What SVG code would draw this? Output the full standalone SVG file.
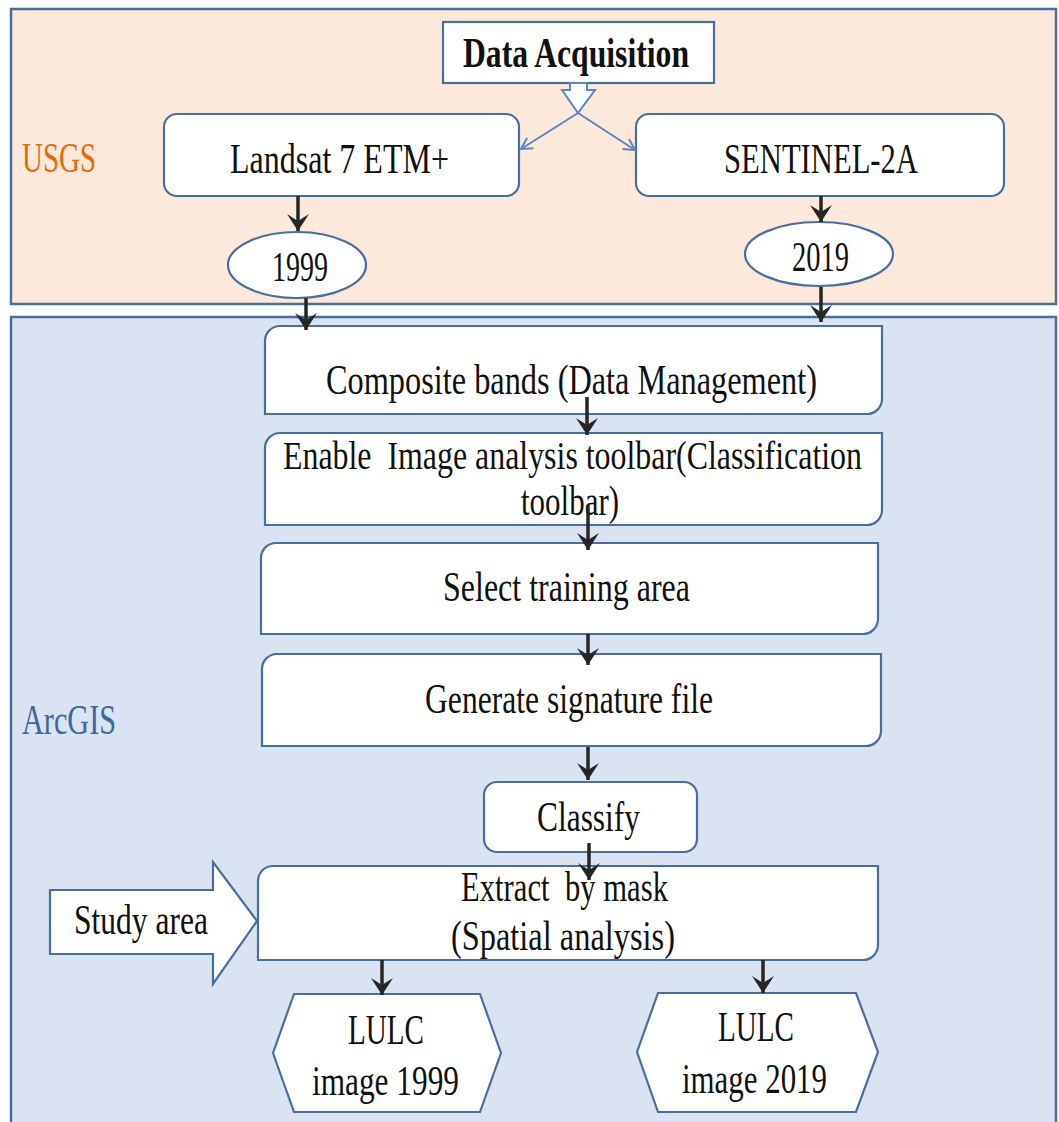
<svg xmlns="http://www.w3.org/2000/svg" width="1059" height="1122" viewBox="0 0 1059 1122">
<style>
.panel{stroke:#4a6e9c;stroke-width:2.5}
.box{fill:#ffffff;stroke:#4a6e9c;stroke-width:2.2}
.t{font-family:"Liberation Serif","Times New Roman",serif;font-size:43px;fill:#111111}
.b{font-weight:bold}
.dark{stroke:#262626;stroke-width:3.5;fill:none}
.blue{stroke:#5b86bf;stroke-width:2;fill:none}
</style>
<defs>
<marker id="ah" viewBox="0 0 20 24" refX="18" refY="12" markerWidth="20" markerHeight="24" markerUnits="userSpaceOnUse" orient="auto">
<path d="M1,1 L18,12 L1,23 L8,12 Z" fill="#262626"/>
</marker>
<marker id="bh" viewBox="0 0 14 14" refX="12" refY="7" markerWidth="14" markerHeight="14" markerUnits="userSpaceOnUse" orient="auto">
<path d="M1,1 L12,7 L1,13" fill="none" stroke="#5b86bf" stroke-width="2"/>
</marker>
</defs>

<g id="panel-usgs">
<rect class="panel" x="11" y="9" width="1045" height="295" fill="#fce9db"/>
<text class="t" x="22" y="172" textLength="74" lengthAdjust="spacingAndGlyphs" style="fill:#e36c09">USGS</text>
</g>
<g id="panel-arcgis">
<rect class="panel" x="11" y="317" width="1045" height="820" fill="#dae3f1"/>
<text class="t" x="22" y="734" textLength="94" lengthAdjust="spacingAndGlyphs" style="fill:#41679c">ArcGIS</text>
</g>

<g id="data-acquisition">
<rect class="box" x="443" y="22" width="271" height="61"/>
<text class="t b" x="463" y="67" textLength="226" lengthAdjust="spacingAndGlyphs">Data Acquisition</text>
</g>

<g id="landsat">
<rect class="box" x="164" y="114" width="355" height="82" rx="13"/>
<text class="t" x="230" y="173" textLength="219" lengthAdjust="spacingAndGlyphs">Landsat 7 ETM+</text>
</g>
<g id="sentinel">
<rect class="box" x="636" y="114" width="368" height="82" rx="13"/>
<text class="t" x="724" y="173" textLength="194" lengthAdjust="spacingAndGlyphs">SENTINEL-2A</text>
</g>
<g id="y1999">
<ellipse class="box" cx="297" cy="265" rx="69" ry="33"/>
<text class="t" x="272" y="281" textLength="56" lengthAdjust="spacingAndGlyphs">1999</text>
</g>
<g id="y2019">
<ellipse class="box" cx="819" cy="254" rx="74" ry="32"/>
<text class="t" x="792" y="271" textLength="57" lengthAdjust="spacingAndGlyphs">2019</text>
</g>

<g id="composite">
<path class="box" d="M280,326 H882 V399 A15,15 0 0 1 867,414 H265 V341 A15,15 0 0 1 280,326 Z"/>
<text class="t" x="326" y="394" textLength="491" lengthAdjust="spacingAndGlyphs">Composite bands (Data Management)</text>
</g>
<g id="enable">
<path class="box" d="M280,433 H882 V510 A15,15 0 0 1 867,525 H265 V448 A15,15 0 0 1 280,433 Z"/>
<text class="t" x="283" y="469" textLength="579" lengthAdjust="spacingAndGlyphs" xml:space="preserve" style="font-size:40px">Enable  Image analysis toolbar(Classification</text>
<text class="t" x="521" y="515" textLength="98" lengthAdjust="spacingAndGlyphs">toolbar)</text>
</g>
<g id="select">
<path class="box" d="M276,543 H878 V619 A15,15 0 0 1 863,634 H261 V558 A15,15 0 0 1 276,543 Z"/>
<text class="t" x="443" y="601" textLength="247" lengthAdjust="spacingAndGlyphs">Select training area</text>
</g>
<g id="generate">
<path class="box" d="M277,654 H881 V731 A15,15 0 0 1 866,746 H262 V669 A15,15 0 0 1 277,654 Z"/>
<text class="t" x="425" y="713" textLength="288" lengthAdjust="spacingAndGlyphs">Generate signature file</text>
</g>
<g id="classify">
<rect class="box" x="484" y="782" width="213" height="70" rx="13"/>
<text class="t" x="537" y="831" textLength="103" lengthAdjust="spacingAndGlyphs">Classify</text>
</g>
<g id="extract">
<path class="box" d="M272,866 H878 V945 A15,15 0 0 1 863,960 H258 V881 A15,15 0 0 1 272,866 Z"/>
<text class="t" x="461" y="901" textLength="207" lengthAdjust="spacingAndGlyphs" xml:space="preserve">Extract  by mask</text>
<text class="t" x="451" y="950" textLength="224" lengthAdjust="spacingAndGlyphs">(Spatial analysis)</text>
</g>
<g id="study-area">
<polygon class="box" points="50,890 213,890 213,862 257,921 213,984 213,954 50,954"/>
<text class="t" x="74" y="934" textLength="134" lengthAdjust="spacingAndGlyphs">Study area</text>
</g>
<g id="lulc-1999">
<polygon class="box" points="294,994 480,994 501,1053 480,1112 294,1112 273,1053"/>
<text class="t" x="348" y="1044" textLength="76" lengthAdjust="spacingAndGlyphs">LULC</text>
<text class="t" x="312" y="1095" textLength="147" lengthAdjust="spacingAndGlyphs">image 1999</text>
</g>
<g id="lulc-2019">
<polygon class="box" points="658,993 856,993 878,1052 856,1112 658,1112 637,1052"/>
<text class="t" x="718" y="1041" textLength="76" lengthAdjust="spacingAndGlyphs">LULC</text>
<text class="t" x="682" y="1093" textLength="145" lengthAdjust="spacingAndGlyphs">image 2019</text>
</g>

<g id="connectors">
<polygon points="570,83 570,90 562,90 578,113 595,90 587,90 587,83" fill="#ffffff" stroke="#5b86bf" stroke-width="2"/>
<line class="blue" x1="578" y1="113" x2="521" y2="149" marker-end="url(#bh)"/>
<line class="blue" x1="578" y1="113" x2="635" y2="150" marker-end="url(#bh)"/>
<line class="dark" x1="298" y1="196" x2="298" y2="231" marker-end="url(#ah)"/>
<line class="dark" x1="821" y1="196" x2="821" y2="222" marker-end="url(#ah)"/>
<line class="dark" x1="306" y1="298" x2="306" y2="330" marker-end="url(#ah)"/>
<line class="dark" x1="821" y1="287" x2="821" y2="322" marker-end="url(#ah)"/>
<line class="dark" x1="587" y1="397" x2="587" y2="435" marker-end="url(#ah)"/>
<line class="dark" x1="588" y1="505" x2="588" y2="550" marker-end="url(#ah)"/>
<line class="dark" x1="588" y1="634" x2="588" y2="665" marker-end="url(#ah)"/>
<line class="dark" x1="588" y1="747" x2="588" y2="780" marker-end="url(#ah)"/>
<line class="dark" x1="589" y1="843" x2="589" y2="880" marker-end="url(#ah)"/>
<line class="dark" x1="382" y1="960" x2="382" y2="995" marker-end="url(#ah)"/>
<line class="dark" x1="763" y1="960" x2="763" y2="993" marker-end="url(#ah)"/>
</g>
</svg>
